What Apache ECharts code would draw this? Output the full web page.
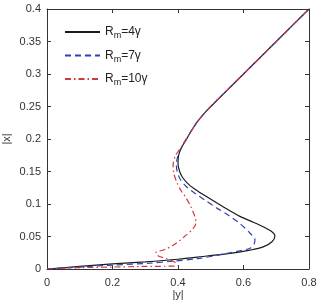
<!DOCTYPE html>
<html>
<head>
<meta charset="utf-8">
<script src="https://cdn.jsdelivr.net/npm/echarts@6/dist/echarts.min.js"></script>
<style>
  html, body { margin: 0; padding: 0; background: #fff; }
  #main { width: 322px; height: 304px; }
</style>
</head>
<body>
<div id="main"></div>
<script>
// 数据: [|y|, |x|]
var xTicks = [0, 0.2, 0.4, 0.6, 0.8];
var yTicks = [0, 0.05, 0.1, 0.15, 0.2, 0.25, 0.3, 0.35, 0.4];
var names = ['4γ', '7γ', '10γ'];

var rm4 = [[0, 0], [0.1, 0.004], [0.2, 0.008], [0.3, 0.011], [0.4, 0.015], [0.488, 0.020],
  [0.56, 0.024], [0.62, 0.029], [0.66, 0.034], [0.687, 0.042], [0.696, 0.051],
  [0.685, 0.058], [0.66, 0.065], [0.63, 0.072], [0.589, 0.081], [0.54, 0.095],
  [0.488, 0.111], [0.46, 0.120], [0.435, 0.129], [0.415, 0.140], [0.405, 0.150],
  [0.40, 0.162], [0.402, 0.175], [0.41, 0.186], [0.425, 0.199], [0.44, 0.212],
  [0.46, 0.227], [0.485, 0.242], [0.52, 0.260], [0.6, 0.30], [0.7, 0.35], [0.8, 0.4]];

var rm7 = [[0, 0], [0.1, 0.003], [0.2, 0.006], [0.315, 0.009], [0.385, 0.012], [0.46, 0.016],
  [0.53, 0.022], [0.58, 0.027], [0.62, 0.032], [0.632, 0.038], [0.635, 0.045],
  [0.62, 0.055], [0.589, 0.070], [0.553, 0.083], [0.518, 0.094], [0.482, 0.106],
  [0.45, 0.117], [0.425, 0.127], [0.408, 0.137], [0.398, 0.149], [0.395, 0.160],
  [0.399, 0.173], [0.41, 0.186], [0.425, 0.199], [0.44, 0.212], [0.46, 0.227],
  [0.485, 0.242], [0.52, 0.260], [0.6, 0.30], [0.7, 0.35], [0.8, 0.4]];

var rm10 = [[0, 0], [0.1, 0.002], [0.2, 0.003], [0.3, 0.004], [0.4, 0.005], [0.392, 0.010],
  [0.37, 0.015], [0.34, 0.020], [0.332, 0.025], [0.36, 0.030], [0.39, 0.038],
  [0.42, 0.050], [0.446, 0.062], [0.455, 0.072], [0.452, 0.080], [0.44, 0.095],
  [0.424, 0.110], [0.41, 0.120], [0.395, 0.135], [0.387, 0.148], [0.385, 0.160],
  [0.392, 0.174], [0.41, 0.188], [0.425, 0.200], [0.44, 0.212], [0.46, 0.227],
  [0.485, 0.242], [0.52, 0.260], [0.6, 0.30], [0.7, 0.35], [0.8, 0.4]];

var colors = ['#1a1a1a', '#2f3fb4', '#d0393b'];
var dashes = ['solid', [6, 4], [6, 3, 1.5, 3]];

var font = 'Liberation Sans, Arial, sans-serif';
var axisColor = '#333';

var myChart = echarts.init(document.getElementById('main'));

function makeX(pos, show) {
  return {
    type: 'value', position: pos, min: 0, max: 0.8, interval: 0.2,
    name: show ? '|y|' : '', nameLocation: 'middle', nameGap: 20, nameMoveOverlap: false,
    nameTextStyle: { color: axisColor, fontSize: 11, fontFamily: font },
    axisLine: { show: true, onZero: false, lineStyle: { color: axisColor, width: 1 } },
    axisTick: { show: true, inside: true, length: 4, lineStyle: { color: axisColor } },
    axisLabel: { show: show, color: axisColor, fontSize: 11, fontFamily: font, margin: 8,
      formatter: function (v) { return xTicks.indexOf(v) >= 0 ? String(v) : ''; } },
    splitLine: { show: false }
  };
}
function makeY(pos, show) {
  return {
    type: 'value', position: pos, min: 0, max: 0.4, interval: 0.05,
    name: show ? '|x|' : '', nameLocation: 'middle', nameGap: 35, nameRotate: 90, nameMoveOverlap: false,
    nameTextStyle: { color: axisColor, fontSize: 11, fontFamily: font },
    axisLine: { show: true, onZero: false, lineStyle: { color: axisColor, width: 1 } },
    axisTick: { show: true, inside: true, length: 4, lineStyle: { color: axisColor } },
    axisLabel: { show: show, color: axisColor, fontSize: 11, fontFamily: font, margin: 6,
      formatter: function (v) { return yTicks.indexOf(v) >= 0 ? String(v) : ''; } },
    splitLine: { show: false }
  };
}

var data = [rm4, rm7, rm10];
var series = [];
for (var i = 0; i < data.length; i++) {
  series.push({
    name: names[i],
    type: 'line',
    data: data[i],
    smooth: 0.3,
    symbol: 'none',
    lineStyle: { color: colors[i], width: 1.2, type: dashes[i] },
    itemStyle: { color: colors[i] },
    z: 2 + i
  });
}

var option = {
  animation: false,
  backgroundColor: '#fff',
  grid: { left: 47, right: 13, top: 9, bottom: 35, containLabel: false, outerBoundsMode: 'none' },
  legend: {
    orient: 'vertical',
    left: 59,
    top: 21,
    itemWidth: 35,
    itemHeight: 10,
    itemGap: 9,
    data: names,
    itemStyle: { opacity: 0 },
    formatter: function (n) { return '{a|R}{s|m}{a|=' + n + '}'; },
    textStyle: {
      color: '#222', fontFamily: font,
      rich: {
        a: { fontSize: 12, fontFamily: font, color: '#222' },
        s: { fontSize: 9, fontFamily: font, color: '#222', verticalAlign: 'bottom', padding: [8, 0, 0, 0] }
      }
    }
  },
  xAxis: [makeX('bottom', true), makeX('top', false)],
  yAxis: [makeY('left', true), makeY('right', false)],
  series: series
};

myChart.setOption(option);
</script>
</body>
</html>
